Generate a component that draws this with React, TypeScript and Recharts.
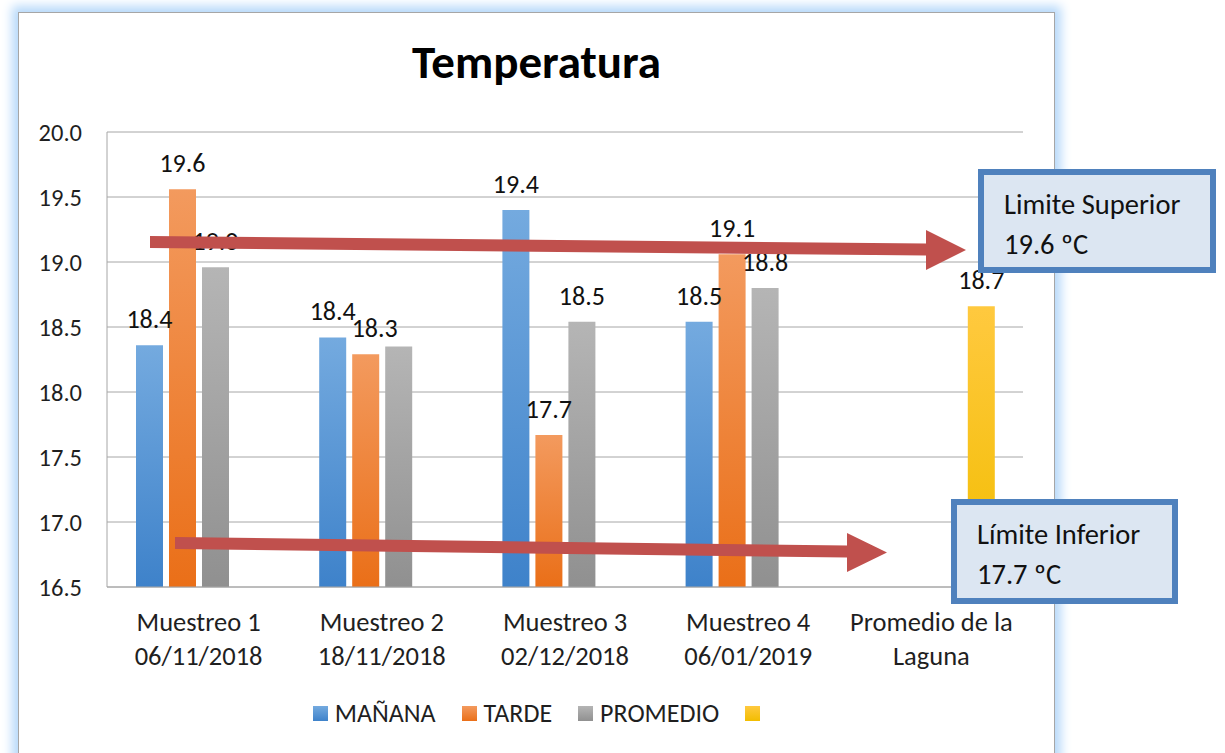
import { BarChart, Bar, XAxis, YAxis, CartesianGrid, Legend, LabelList } from 'recharts'

const FONT = 'Carlito, Lato, "Open Sans", sans-serif'

const categories = [
  ['Muestreo 1', '06/11/2018'],
  ['Muestreo 2', '18/11/2018'],
  ['Muestreo 3', '02/12/2018'],
  ['Muestreo 4', '06/01/2019'],
  ['Promedio de la', 'Laguna'],
]
const manana = [18.36, 18.42, 19.4, 18.54, null]
const tarde = [19.56, 18.29, 17.67, 19.06, null]
const promedio = [18.96, 18.35, 18.54, 18.8, null]
const laguna = [null, null, null, null, 18.66]
// the data label over Promedio / Muestreo 2 is not shown in the original
const promedioLabelShown = [true, false, true, true, true]
const yTicks = [16.5, 17, 17.5, 18, 18.5, 19, 19.5, 20]

const series = [
  { key: 'manana', name: 'MAÑANA', top: '#74AADF', bottom: '#3E82CA' },
  { key: 'tarde', name: 'TARDE', top: '#F39A5E', bottom: '#EA6F18' },
  { key: 'promedio', name: 'PROMEDIO', top: '#B5B5B5', bottom: '#909090' },
  { key: 'laguna', name: '', top: '#FFC93F', bottom: '#F2BD00' },
]

const data = categories.map((c, i) => ({
  cat: i,
  manana: manana[i],
  tarde: tarde[i],
  promedio: promedio[i],
  laguna: laguna[i],
}))

const fmt = (v: any) => (v == null ? '' : Number(v).toFixed(1))
const labelStyle = { fontFamily: FONT, fontSize: 26, fill: '#111' }

function CatTick({ x, y, payload }: any) {
  const lines = categories[payload.value] || []
  return (
    <text x={x} y={y} textAnchor="middle" fontFamily={FONT} fontSize={26.5} fill="#1f1f1f">
      <tspan x={x} y={y + 36}>{lines[0]}</tspan>
      <tspan x={x} y={y + 70}>{lines[1]}</tspan>
    </text>
  )
}

function LegendBox() {
  return (
    <div style={{ display: 'flex', justifyContent: 'center', alignItems: 'center', gap: 26, fontFamily: FONT, fontSize: 26, color: '#1f1f1f' }}>
      {series.map(s => (
        <div key={s.key} style={{ display: 'flex', alignItems: 'center', gap: 7 }}>
          <div style={{ width: 15, height: 15, background: `linear-gradient(${s.top}, ${s.bottom})` }} />
          {s.name && <span>{s.name}</span>}
        </div>
      ))}
    </div>
  )
}

function PromedioLabel(props: any) {
  const { x, y, width, value, index } = props
  if (value == null || !promedioLabelShown[index]) return null
  return (
    <text x={x + width / 2} y={y - 17} textAnchor="middle" {...labelStyle}>
      {fmt(value)}
    </text>
  )
}

// Tarde label of Muestreo 2 sits a little to the right in the original (it was dragged)
function TardeLabel(props: any) {
  const { x, y, width, value, index } = props
  if (value == null) return null
  const dx = index === 1 ? 9 : 0
  return (
    <text x={x + width / 2 + dx} y={y - 17} textAnchor="middle" {...labelStyle}>
      {fmt(value)}
    </text>
  )
}

const boxStyle = {
  position: 'absolute' as const,
  boxSizing: 'border-box' as const,
  border: '6px solid #4F81BD',
  background: '#DCE6F2',
  padding: '10px 0 0 20px',
  fontFamily: FONT,
  fontSize: 28.5,
  lineHeight: '40px',
  color: '#111',
  whiteSpace: 'nowrap' as const,
}

export default function App() {
  return (
    <div style={{ position: 'absolute', left: 0, top: 0, width: 1225, height: 753, background: '#fff', overflow: 'hidden' }}>
      <div style={{
        position: 'absolute', left: 18, top: 12, width: 1037, height: 750, boxSizing: 'border-box',
        border: '1px solid #A6A6A6', background: '#fff', boxShadow: '0 0 10px 6px #B7D9FA',
      }} />
      <div style={{
        position: 'absolute', left: 18, top: 32, width: 1037, textAlign: 'center',
        fontFamily: FONT, fontSize: 47, fontWeight: 700, color: '#000', lineHeight: '60px',
      }}>Temperatura</div>

      <div style={{ position: 'absolute', left: 0, top: 0 }}>
        <BarChart width={1225} height={753} data={data}
          margin={{ top: 132, right: 202, bottom: 0, left: 0 }}
          barSize={27} barGap={6}>
          <defs>
            {series.map(s => (
              <linearGradient key={s.key} id={`g-${s.key}`} x1="0" y1="0" x2="0" y2="1">
                <stop offset="0%" stopColor={s.top} />
                <stop offset="100%" stopColor={s.bottom} />
              </linearGradient>
            ))}
          </defs>
          <CartesianGrid vertical={false} stroke="#A6A6A6" />
          <XAxis dataKey="cat" height={166} tick={<CatTick />} tickLine={false}
            axisLine={{ stroke: '#A6A6A6' }} interval={0} />
          <YAxis width={107} domain={[16.5, 20]} ticks={yTicks} allowDataOverflow
            tickFormatter={fmt} tickLine={false} tickSize={0} tickMargin={25}
            axisLine={{ stroke: '#A6A6A6' }}
            tick={{ fontFamily: FONT, fontSize: 24.5, fill: '#1f1f1f' }} />
          <Legend layout="horizontal" verticalAlign="middle" align="center" content={<LegendBox />}
            wrapperStyle={{ position: 'absolute', left: 18, top: 697, width: 1037, height: 32 }} />
          <Bar dataKey="manana" name="MAÑANA" fill="url(#g-manana)" isAnimationActive={false}>
            <LabelList dataKey="manana" position="top" offset={17} formatter={fmt} style={labelStyle} />
          </Bar>
          <Bar dataKey="tarde" name="TARDE" fill="url(#g-tarde)" isAnimationActive={false}>
            <LabelList dataKey="tarde" content={<TardeLabel />} />
          </Bar>
          <Bar dataKey="promedio" name="PROMEDIO" fill="url(#g-promedio)" isAnimationActive={false}>
            <LabelList dataKey="promedio" content={<PromedioLabel />} />
          </Bar>
          <Bar dataKey="laguna" name="" fill="url(#g-laguna)" isAnimationActive={false}>
            <LabelList dataKey="laguna" position="top" offset={17} formatter={fmt} style={labelStyle} />
          </Bar>
        </BarChart>
      </div>

      <svg width={1225} height={753} style={{ position: 'absolute', left: 0, top: 0, pointerEvents: 'none' }}>
        <polygon fill="#C0504D"
          points="150,236 926,243.5 926,230 966,250 926,270 926,255.5 150,248" />
        <polygon fill="#C0504D"
          points="175,537 847,545.5 847,533 887,552.5 847,572 847,557.5 175,549" />
      </svg>

      <div style={{ ...boxStyle, left: 978, top: 169, width: 238, height: 104 }}>
        <div>Limite Superior</div>
        <div>19.6 ºC</div>
      </div>
      <div style={{ ...boxStyle, left: 951, top: 499, width: 227, height: 105 }}>
        <div>Límite Inferior</div>
        <div>17.7 ºC</div>
      </div>
    </div>
  )
}
